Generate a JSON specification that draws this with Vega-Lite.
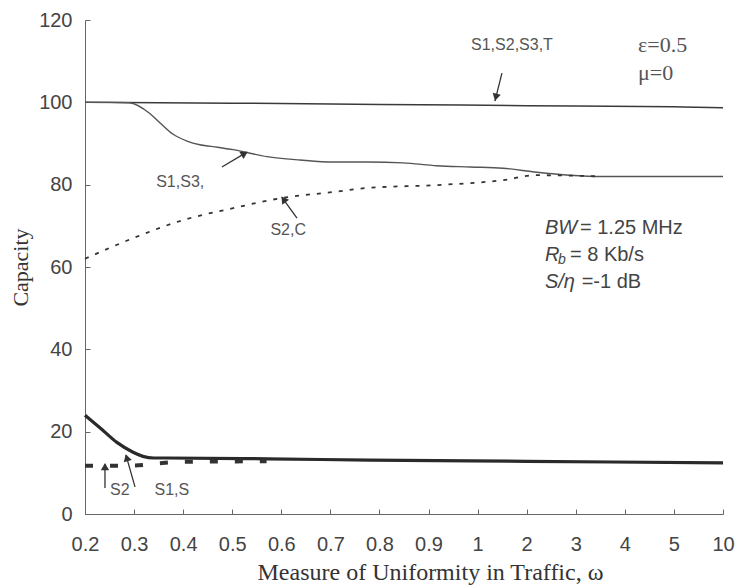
{
  "$schema": "https://vega.github.io/schema/vega-lite/v6.json",
  "width": 638,
  "height": 494,
  "autosize": {"type": "none"},
  "padding": {"left": 85, "top": 20, "right": 13, "bottom": 73},
  "background": "white",
  "config": {"view": {"stroke": null}},
  "datasets": {
    "curves": [
      {"series": "S1,S2,S3,T", "w": 0.2, "cap": 100},
      {"series": "S1,S2,S3,T", "w": 0.5, "cap": 99.8},
      {"series": "S1,S2,S3,T", "w": 0.8, "cap": 99.5},
      {"series": "S1,S2,S3,T", "w": 2, "cap": 99.2},
      {"series": "S1,S2,S3,T", "w": 5, "cap": 98.9},
      {"series": "S1,S2,S3,T", "w": 10, "cap": 98.7},
      {"series": "S1,S3", "w": 0.2, "cap": 100},
      {"series": "S1,S3", "w": 0.25, "cap": 100},
      {"series": "S1,S3", "w": 0.29, "cap": 99.9},
      {"series": "S1,S3", "w": 0.332, "cap": 97.3},
      {"series": "S1,S3", "w": 0.353, "cap": 95.0},
      {"series": "S1,S3", "w": 0.379, "cap": 92.3},
      {"series": "S1,S3", "w": 0.408, "cap": 90.6},
      {"series": "S1,S3", "w": 0.434, "cap": 89.7},
      {"series": "S1,S3", "w": 0.47, "cap": 89.1},
      {"series": "S1,S3", "w": 0.502, "cap": 88.5},
      {"series": "S1,S3", "w": 0.571, "cap": 86.8},
      {"series": "S1,S3", "w": 0.638, "cap": 86.0},
      {"series": "S1,S3", "w": 0.705, "cap": 85.5},
      {"series": "S1,S3", "w": 0.775, "cap": 85.5},
      {"series": "S1,S3", "w": 0.848, "cap": 85.3},
      {"series": "S1,S3", "w": 0.917, "cap": 84.6},
      {"series": "S1,S3", "w": 0.985, "cap": 84.3},
      {"series": "S1,S3", "w": 1.517, "cap": 84.0},
      {"series": "S1,S3", "w": 2.21, "cap": 83.0},
      {"series": "S1,S3", "w": 2.88, "cap": 82.3},
      {"series": "S1,S3", "w": 3.55, "cap": 82.0},
      {"series": "S1,S3", "w": 10, "cap": 82.0},
      {"series": "S2,C", "w": 0.2, "cap": 62.0},
      {"series": "S2,C", "w": 0.298, "cap": 67.0},
      {"series": "S2,C", "w": 0.4, "cap": 71.4},
      {"series": "S2,C", "w": 0.502, "cap": 74.3},
      {"series": "S2,C", "w": 0.603, "cap": 76.8},
      {"series": "S2,C", "w": 0.705, "cap": 78.2},
      {"series": "S2,C", "w": 0.775, "cap": 79.2},
      {"series": "S2,C", "w": 0.917, "cap": 79.9},
      {"series": "S2,C", "w": 1.517, "cap": 81.1},
      {"series": "S2,C", "w": 2.2, "cap": 82.3},
      {"series": "S2,C", "w": 2.9, "cap": 82.2},
      {"series": "S2,C", "w": 3.5, "cap": 82.0},
      {"series": "S1,S", "w": 0.2, "cap": 24.0},
      {"series": "S1,S", "w": 0.231, "cap": 20.9},
      {"series": "S1,S", "w": 0.265, "cap": 17.4},
      {"series": "S1,S", "w": 0.298, "cap": 15.0},
      {"series": "S1,S", "w": 0.318, "cap": 14.0},
      {"series": "S1,S", "w": 0.34, "cap": 13.6},
      {"series": "S1,S", "w": 0.367, "cap": 13.6},
      {"series": "S1,S", "w": 0.571, "cap": 13.4},
      {"series": "S1,S", "w": 0.781, "cap": 13.1},
      {"series": "S1,S", "w": 2, "cap": 12.8},
      {"series": "S1,S", "w": 10, "cap": 12.4},
      {"series": "S2", "w": 0.2, "cap": 11.7},
      {"series": "S2", "w": 0.3, "cap": 11.8},
      {"series": "S2", "w": 0.35, "cap": 12.3},
      {"series": "S2", "w": 0.4, "cap": 12.7},
      {"series": "S2", "w": 0.57, "cap": 12.8}
    ],
    "arrows": [
      {"id": 1, "w": 1.496, "cap": 107.1, "w2": 1.354, "cap2": 100.3, "hw": 1.378, "hcap": 101.5},
      {"id": 2, "w": 0.479, "cap": 84.3, "w2": 0.530, "cap2": 87.9, "hw": 0.523, "hcap": 87.4},
      {"id": 3, "w": 0.632, "cap": 71.9, "w2": 0.601, "cap2": 77.0, "hw": 0.606, "hcap": 76.2},
      {"id": 4, "w": 0.2407, "cap": 6.3, "w2": 0.2407, "cap2": 12.1, "hw": 0.2407, "hcap": 11.2},
      {"id": 5, "w": 0.3019, "cap": 6.6, "w2": 0.2835, "cap2": 14.3, "hw": 0.2858, "hcap": 13.4}
    ],
    "tags": [
      {"label": "S1,S2,S3,T", "w": 1.70, "cap": 113.9},
      {"label": "S1,S3,", "w": 0.394, "cap": 80.6},
      {"label": "S2,C", "w": 0.614, "cap": 69.0},
      {"label": "S2", "w": 0.271, "cap": 5.8},
      {"label": "S1,S", "w": 0.377, "cap": 5.8}
    ],
    "greek": [
      {"label": "ε=0.5", "w": 4.27, "cap": 113.9},
      {"label": "μ=0", "w": 4.27, "cap": 107.1}
    ],
    "ital": [
      {"label": "BW", "w": 2.372, "cap": 69.5},
      {"label": "R", "w": 2.372, "cap": 62.9},
      {"label": "S/η", "w": 2.372, "cap": 56.4}
    ],
    "plain": [
      {"label": "= 1.25 MHz", "w": 3.086, "cap": 69.5},
      {"label": "= 8 Kb/s", "w": 2.882, "cap": 62.9},
      {"label": "=-1 dB", "w": 3.12, "cap": 56.4}
    ],
    "sub": [
      {"label": "b", "w": 2.637, "cap": 61.6}
    ]
  },
  "encoding": {
    "x": {
      "field": "w",
      "type": "quantitative",
      "scale": {"domain": [0.2, 1, 5, 10], "range": [0, 392.6, 588.9, 638], "zero": false, "nice": false},
      "axis": {
        "values": [0.2, 0.3, 0.4, 0.5, 0.6, 0.7, 0.8, 0.9, 1, 2, 3, 4, 5, 10],
        "format": "~g",
        "title": "Measure of Uniformity in Traffic, ω",
        "grid": false,
        "domainColor": "#666",
        "tickColor": "#666",
        "tickSize": -5,
        "labelFont": "Liberation Sans",
        "labelFontSize": 20,
        "labelColor": "#444",
        "labelPadding": 25,
        "labelFlush": false,
        "labelOverlap": false,
        "titleFont": "Liberation Serif",
        "titleFontSize": 24,
        "titleFontWeight": "normal",
        "titleColor": "#333",
        "titleX": 345,
        "titleY": 58,
        "titleBaseline": "middle",
        "titleAlign": "center"
      }
    },
    "y": {
      "field": "cap",
      "type": "quantitative",
      "scale": {"domain": [0, 120], "nice": false},
      "axis": {
        "values": [0, 20, 40, 60, 80, 100, 120],
        "title": "Capacity",
        "grid": false,
        "domainColor": "#666",
        "tickColor": "#666",
        "tickSize": -5,
        "labelFont": "Liberation Sans",
        "labelFontSize": 20,
        "labelColor": "#444",
        "labelPadding": 18,
        "titleFont": "Liberation Serif",
        "titleFontSize": 22,
        "titleFontWeight": "normal",
        "titleColor": "#333",
        "titleX": -65,
        "titleY": 247,
        "titleAngle": -90,
        "titleBaseline": "middle",
        "titleAlign": "center"
      }
    }
  },
  "layer": [
    {
      "data": {"name": "curves"},
      "transform": [{"filter": "datum.series == 'S1,S2,S3,T'"}],
      "mark": {"type": "line", "interpolate": "monotone", "color": "#3a3a3a", "strokeWidth": 1.5}
    },
    {
      "data": {"name": "curves"},
      "transform": [{"filter": "datum.series == 'S1,S3'"}],
      "mark": {"type": "line", "interpolate": "monotone", "color": "#555555", "strokeWidth": 1.4}
    },
    {
      "data": {"name": "curves"},
      "transform": [{"filter": "datum.series == 'S2,C'"}],
      "mark": {"type": "line", "interpolate": "monotone", "color": "#333333", "strokeWidth": 1.8, "strokeDash": [4, 7]}
    },
    {
      "data": {"name": "curves"},
      "transform": [{"filter": "datum.series == 'S1,S'"}],
      "mark": {"type": "line", "interpolate": "monotone", "color": "#2a2a2a", "strokeWidth": 3.2}
    },
    {
      "data": {"name": "curves"},
      "transform": [{"filter": "datum.series == 'S2'"}],
      "mark": {"type": "line", "interpolate": "monotone", "color": "#333333", "strokeWidth": 4, "strokeDash": [8, 17]}
    },
    {
      "data": {"name": "arrows"},
      "mark": {"type": "rule", "color": "#333", "strokeWidth": 1.3},
      "encoding": {
        "x2": {"field": "w2"},
        "y2": {"field": "cap2"}
      }
    },
    {
      "data": {"name": "arrows"},
      "transform": [{"filter": "datum.id == 1"}],
      "mark": {"type": "point", "shape": "triangle", "filled": true, "color": "#333", "opacity": 1, "size": 70, "angle": 194},
      "encoding": {"x": {"field": "hw", "type": "quantitative"}, "y": {"field": "hcap", "type": "quantitative"}}
    },
    {
      "data": {"name": "arrows"},
      "transform": [{"filter": "datum.id == 2"}],
      "mark": {"type": "point", "shape": "triangle", "filled": true, "color": "#333", "opacity": 1, "size": 70, "angle": 59},
      "encoding": {"x": {"field": "hw", "type": "quantitative"}, "y": {"field": "hcap", "type": "quantitative"}}
    },
    {
      "data": {"name": "arrows"},
      "transform": [{"filter": "datum.id == 3"}],
      "mark": {"type": "point", "shape": "triangle", "filled": true, "color": "#333", "opacity": 1, "size": 70, "angle": 324},
      "encoding": {"x": {"field": "hw", "type": "quantitative"}, "y": {"field": "hcap", "type": "quantitative"}}
    },
    {
      "data": {"name": "arrows"},
      "transform": [{"filter": "datum.id == 4"}],
      "mark": {"type": "point", "shape": "triangle", "filled": true, "color": "#333", "opacity": 1, "size": 70, "angle": 0},
      "encoding": {"x": {"field": "hw", "type": "quantitative"}, "y": {"field": "hcap", "type": "quantitative"}}
    },
    {
      "data": {"name": "arrows"},
      "transform": [{"filter": "datum.id == 5"}],
      "mark": {"type": "point", "shape": "triangle", "filled": true, "color": "#333", "opacity": 1, "size": 70, "angle": 344},
      "encoding": {"x": {"field": "hw", "type": "quantitative"}, "y": {"field": "hcap", "type": "quantitative"}}
    },
    {
      "data": {"name": "tags"},
      "mark": {"type": "text", "font": "Liberation Sans", "fontSize": 16, "color": "#555", "align": "center", "baseline": "middle"},
      "encoding": {"text": {"field": "label"}}
    },
    {
      "data": {"name": "greek"},
      "mark": {"type": "text", "font": "Liberation Serif", "fontSize": 22, "color": "#555", "align": "left", "baseline": "middle"},
      "encoding": {"text": {"field": "label"}}
    },
    {
      "data": {"name": "ital"},
      "mark": {"type": "text", "font": "Liberation Sans", "fontSize": 20, "fontStyle": "italic", "color": "#444", "align": "left", "baseline": "middle"},
      "encoding": {"text": {"field": "label"}}
    },
    {
      "data": {"name": "plain"},
      "mark": {"type": "text", "font": "Liberation Sans", "fontSize": 20, "color": "#444", "align": "left", "baseline": "middle"},
      "encoding": {"text": {"field": "label"}}
    },
    {
      "data": {"name": "sub"},
      "mark": {"type": "text", "font": "Liberation Sans", "fontSize": 14, "fontStyle": "italic", "color": "#444", "align": "left", "baseline": "middle"},
      "encoding": {"text": {"field": "label"}}
    }
  ]
}
